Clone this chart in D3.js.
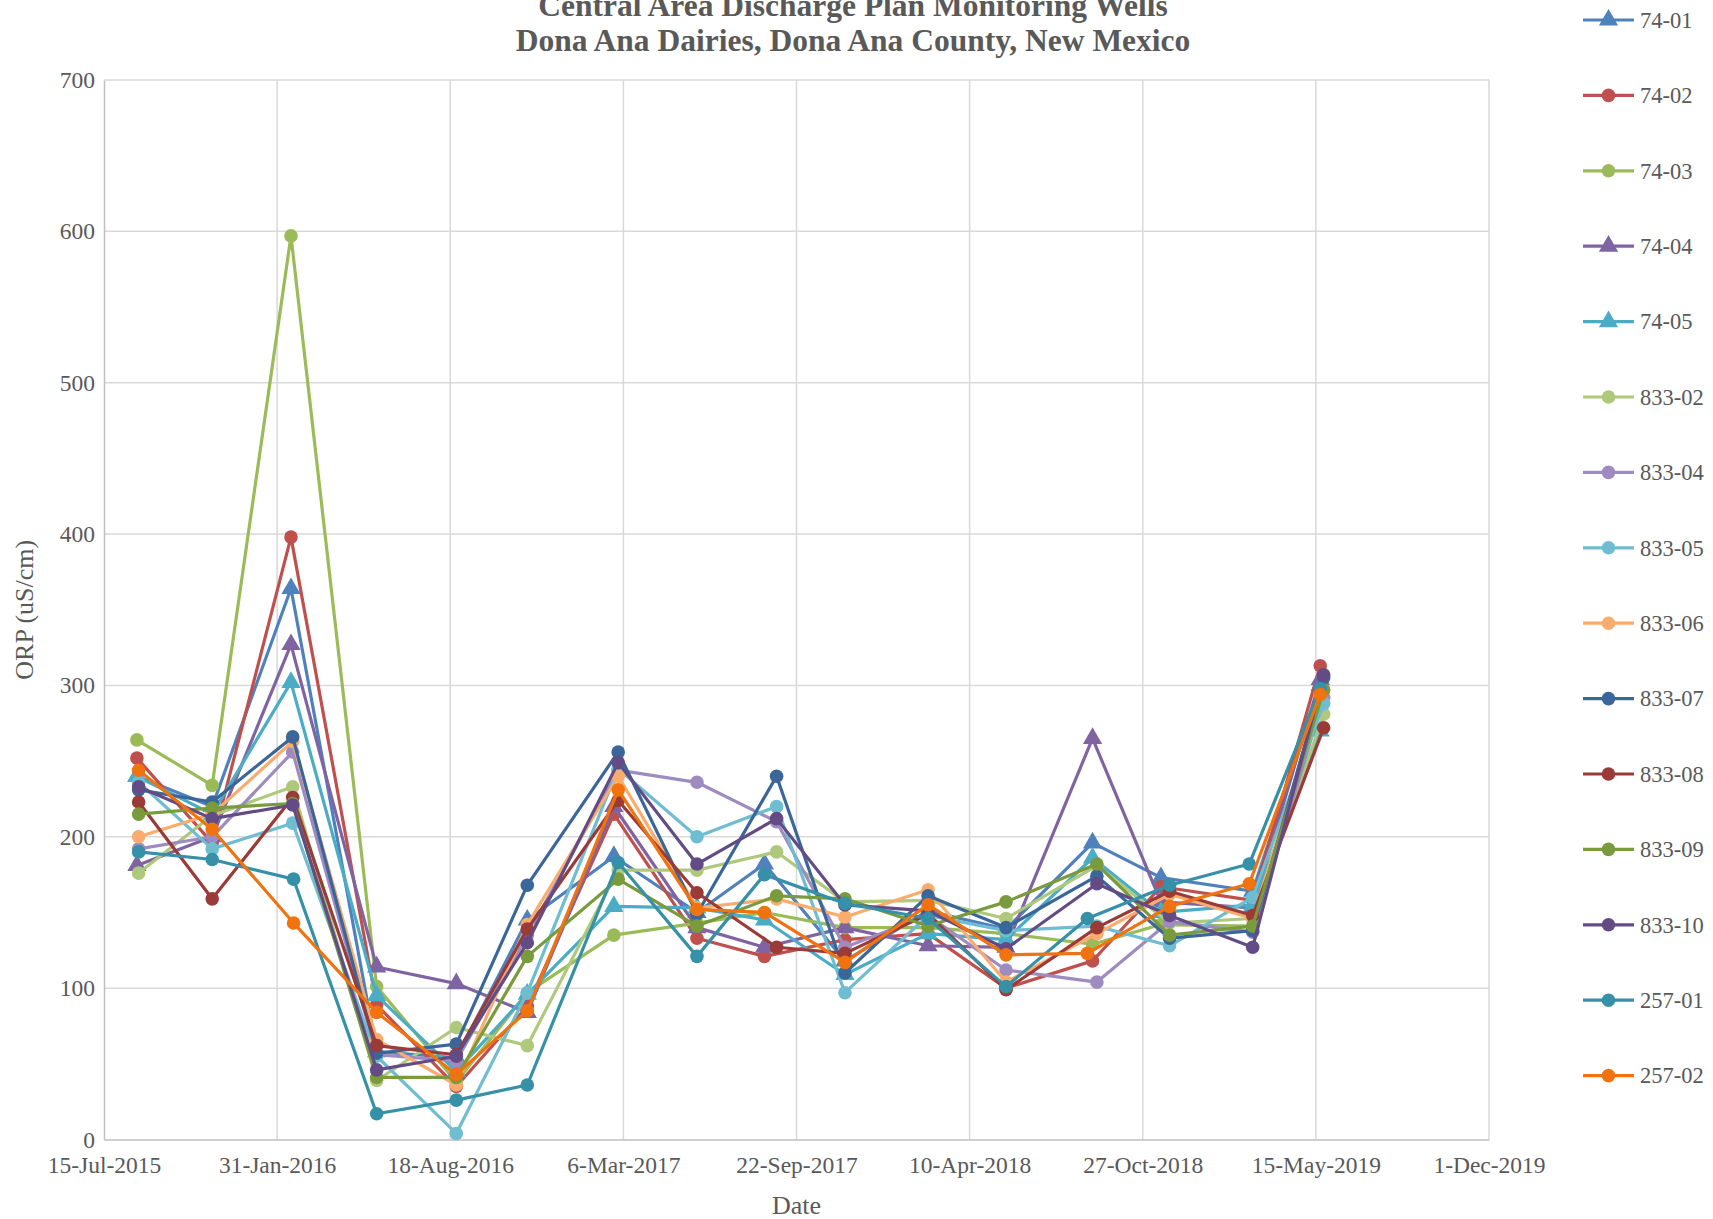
<!DOCTYPE html>
<html>
<head>
<meta charset="utf-8">
<title>Central Area Discharge Plan Monitoring Wells</title>
<script src="https://d3js.org/d3.v7.min.js"></script>
<style>
  body { margin: 0; background: #fff; }
  svg text { font-family: "Liberation Serif", "Times New Roman", serif; fill: #595959; }
</style>
</head>
<body>
<svg id="chart" width="1713" height="1219"></svg>
<script>
// sampling dates (three groups of wells were sampled on slightly different days)
const dates74  = ["2015-08-22","2015-11-17","2016-02-16","2016-05-25","2016-08-25","2016-11-15","2017-02-23","2017-05-30","2017-08-16","2017-11-17","2018-02-21","2018-05-22","2018-08-30","2018-11-17","2019-03-03","2019-05-20"];
const dates833 = ["2015-08-24","2015-11-17","2016-02-18","2016-05-25","2016-08-25","2016-11-15","2017-02-28","2017-05-30","2017-08-30","2017-11-17","2018-02-21","2018-05-22","2018-09-04","2018-11-27","2019-03-03","2019-05-24"];
const dates257 = ["2015-08-24","2015-11-17","2016-02-19","2016-05-25","2016-08-25","2016-11-15","2017-02-28","2017-05-30","2017-08-16","2017-11-17","2018-02-21","2018-05-22","2018-08-24","2018-11-27","2019-02-27","2019-05-20"];

const wellNames = ["74-01","74-02","74-03","74-04","74-05","833-02","833-04","833-05","833-06","833-07","833-08","833-09","833-10","257-01","257-02"];

// ORP values per well
const orp7401  = [240, 220, 364,  58,  54, 145, 187, 150, 182, 118, 151, 139, 196, 173, 164, 300];
const orp7402  = [252, 196, 398,  89,  35,  88, 215, 133, 121, 132, 136, 100, 118, 167, 158, 313];
const orp7403  = [264, 234, 597, 101,  38,  97, 135, 143, 150, 140, 140, 136, 129, 142, 141, 295];
const orp7404  = [181, 200, 327, 114, 103,  84, 220, 140, 127, 140, 128, 127, 265, 157, 153, 304];
const orp7405  = [240, 215, 302,  95,  45,  96, 154, 153, 145, 109, 136, 132, 186, 150, 155, 270];
const orp83302 = [176, 214, 233,  39,  74,  62, 178, 178, 190, 157, 158, 146, 181, 143, 146, 281];
const orp83304 = [192, 200, 256,  56,  52, 135, 244, 236, 210, 127, 148, 112, 104, 144, 137, 292];
const orp83305 = [236, 192, 209,  55,   4,  97, 245, 200, 220,  97, 148, 138, 141, 128, 160, 288];
const orp83306 = [200, 215, 263,  66,  36, 142, 240, 153, 159, 147, 165, 104, 136, 162, 146, 297];
const orp83307 = [231, 223, 266,  57,  63, 168, 256, 149, 240, 110, 161, 140, 174, 133, 138, 305];
const orp83308 = [223, 159, 226,  62,  56, 139, 224, 163, 127, 123, 149,  99, 140, 164, 148, 272];
const orp83309 = [215, 219, 222,  41,  41, 121, 172, 141, 161, 159, 141, 157, 182, 135, 141, 297];
const orp83310 = [233, 212, 221,  46,  55, 130, 249, 182, 212, 155, 151, 126, 169, 148, 127, 307];
const orp25701 = [190, 185, 172,  17,  26,  36, 183, 121, 175, 156, 146, 101, 146, 168, 182, 298];
const orp25702 = [244, 205, 143,  84,  43,  85, 231, 152, 150, 117, 155, 122, 123, 154, 169, 294];

const wellValues = [orp7401, orp7402, orp7403, orp7404, orp7405, orp83302, orp83304, orp83305,
                    orp83306, orp83307, orp83308, orp83309, orp83310, orp25701, orp25702];
const wellDates = [dates74, dates74, dates74, dates74, dates74, dates833, dates833, dates833,
                   dates833, dates833, dates833, dates833, dates833, dates257, dates257];
const wellColors = ["#4F81BD","#C0504D","#9BBB59","#8064A2","#4BACC6","#AFC97C","#9E8BC0","#6FBDD1",
                    "#F9AC6E","#3B6699","#9B3B38","#799B3D","#634C86","#3590A8","#F0730F"];
const wellMarkers = ["triangle","circle","circle","triangle","triangle","circle","circle","circle",
                     "circle","circle","circle","circle","circle","circle","circle"];

const xTicks = ["2015-07-15","2016-01-31","2016-08-18","2017-03-06","2017-09-22","2018-04-10","2018-10-27","2019-05-15","2019-12-01"];
const yTicks = [0, 100, 200, 300, 400, 500, 600, 700];

const parse = d3.timeParse("%Y-%m-%d");
const fmt = d3.timeFormat("%-d-%b-%Y");

const svg = d3.select("#chart");
const plotLeft = 104, plotRight = 1489, plotTop = 80, plotBottom = 1139.5;

const x = d3.scaleTime().domain([parse(xTicks[0]), parse(xTicks[xTicks.length - 1])]).range([plotLeft, plotRight]);
const y = d3.scaleLinear().domain([0, 700]).range([plotBottom, plotTop]);

// gridlines
svg.append("g").selectAll("line").data(yTicks.slice(1)).join("line")
  .attr("x1", plotLeft).attr("x2", plotRight)
  .attr("y1", d => y(d)).attr("y2", d => y(d))
  .attr("stroke", "#D9D9D9").attr("stroke-width", 1.5);
svg.append("g").selectAll("line").data(xTicks.slice(1)).join("line")
  .attr("x1", d => x(parse(d))).attr("x2", d => x(parse(d)))
  .attr("y1", plotTop).attr("y2", plotBottom)
  .attr("stroke", "#D9D9D9").attr("stroke-width", 1.5);

// axes
const yAxis = svg.append("g").attr("transform", `translate(${plotLeft},0)`)
  .call(d3.axisLeft(y).tickValues(yTicks).tickSize(0).tickPadding(9));
const xAxis = svg.append("g").attr("transform", `translate(0,${plotBottom})`)
  .call(d3.axisBottom(x).tickValues(xTicks.map(parse)).tickFormat(fmt).tickSize(0).tickPadding(17));
[yAxis, xAxis].forEach(a => {
  a.select(".domain").attr("stroke", "#BFBFBF").attr("stroke-width", 1.5);
  a.selectAll("text").attr("font-size", 23.5).attr("fill", "#595959")
    .attr("font-family", "Liberation Serif, Times New Roman, serif");
});

// axis titles
svg.append("text").attr("x", (plotLeft + plotRight) / 2).attr("y", 1214)
  .attr("text-anchor", "middle").attr("font-size", 26).text("Date");
svg.append("text").attr("transform", `translate(33,${(plotTop + plotBottom) / 2}) rotate(-90)`)
  .attr("text-anchor", "middle").attr("font-size", 26).text("ORP (uS/cm)");

// title
const title = svg.append("text").attr("text-anchor", "middle").attr("font-weight", "bold")
  .attr("font-size", 31.5).attr("fill", "#595959");
title.append("tspan").attr("x", 853).attr("y", 16).text("Central Area Discharge Plan Monitoring Wells");
title.append("tspan").attr("x", 853).attr("y", 51).text("Dona Ana Dairies, Dona Ana County, New Mexico");

const triangle = d3.symbol().type(d3.symbolTriangle).size(160);
const line = d3.line().x(d => x(d.date)).y(d => y(d.value));

function drawMarker(g, kind, color, cx, cy) {
  if (kind === "triangle") {
    g.append("path").attr("d", triangle).attr("transform", `translate(${cx},${cy})`).attr("fill", color);
  } else {
    g.append("circle").attr("cx", cx).attr("cy", cy).attr("r", 6.8).attr("fill", color);
  }
}

// series
const plot = svg.append("g");
wellNames.forEach((name, i) => {
  const pts = wellValues[i].map((v, j) => ({ date: parse(wellDates[i][j]), value: v }));
  const g = plot.append("g").attr("class", "series");
  g.append("path").datum(pts).attr("d", line)
    .attr("fill", "none").attr("stroke", wellColors[i]).attr("stroke-width", 3.2)
    .attr("stroke-linejoin", "round").attr("stroke-linecap", "round");
  pts.forEach(p => drawMarker(g, wellMarkers[i], wellColors[i], x(p.date), y(p.value)));
});

// legend
const legend = svg.append("g");
wellNames.forEach((name, i) => {
  const ly = 20 + i * 75.4;
  const g = legend.append("g");
  g.append("line").attr("x1", 1583).attr("x2", 1634).attr("y1", ly).attr("y2", ly)
    .attr("stroke", wellColors[i]).attr("stroke-width", 3.2);
  drawMarker(g, wellMarkers[i], wellColors[i], 1608.5, ly);
  g.append("text").attr("x", 1640).attr("y", ly).attr("dy", "0.35em")
    .attr("font-size", 22.5).text(name);
});
</script>
</body>
</html>
